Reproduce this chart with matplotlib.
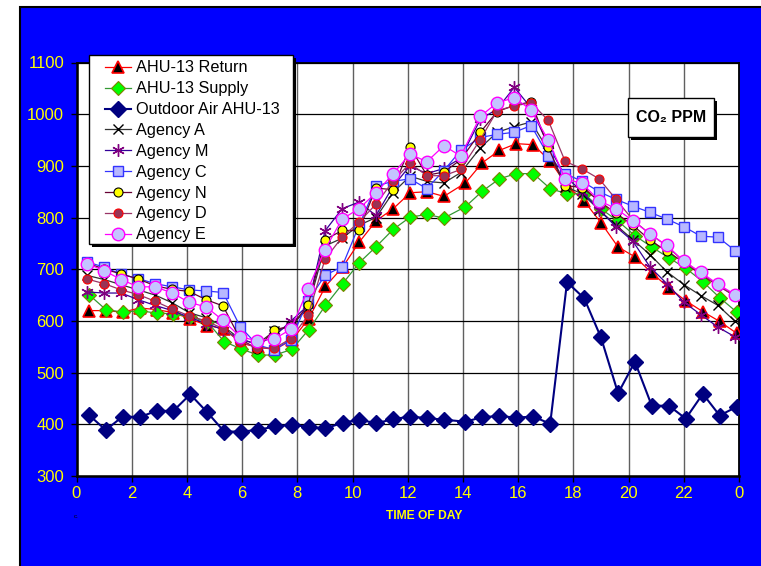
import matplotlib
matplotlib.use("Agg")
import matplotlib.pyplot as plt
from matplotlib.patches import Rectangle

plt.rcParams['font.family'] = ['Liberation Sans', 'DejaVu Sans']

# ---------------- data ----------------
t_ahu = [0.45, 1.06, 1.67, 2.29, 2.90, 3.51, 4.12, 4.74, 5.35, 5.96, 6.57, 7.19, 7.80,
         8.41, 9.02, 9.64, 10.25, 10.86, 11.47, 12.09, 12.70, 13.31, 14.09, 14.70,
         15.32, 15.93, 16.55, 17.16, 17.77, 18.39, 19.00, 19.62, 20.23, 20.84, 21.46,
         22.07, 22.69, 23.30, 23.92]
t_agency = [0.39, 1.01, 1.62, 2.24, 2.85, 3.47, 4.08, 4.70, 5.31, 5.93, 6.54, 7.16, 7.77,
            8.39, 9.00, 9.62, 10.23, 10.85, 11.46, 12.08, 12.69, 13.31, 13.92, 14.63,
            15.24, 15.86, 16.47, 17.09, 17.70, 18.32, 18.93, 19.55, 20.16, 20.78, 21.39,
            22.01, 22.62, 23.24, 23.86]

ahu_return = [620, 620, 617, 625, 622, 616, 604, 591, 585, 557, 549, 545, 563, 604, 667,
              704, 753, 794, 817, 848, 850, 841, 867, 906, 930, 943, 941, 909, 862, 832,
              790, 743, 724, 693, 664, 639, 618, 599, 576]
ahu_supply = [651, 622, 617, 620, 615, 614, 608, 598, 560, 546, 534, 534, 545, 583, 630,
              672, 713, 744, 777, 801, 806, 799, 821, 851, 875, 885, 885, 856, 846, 846,
              817, 793, 765, 743, 722, 702, 676, 645, 617]
outdoor = [418, 389, 415, 414, 426, 426, 458, 423, 386, 386, 389, 396, 399, 395, 392,
           403, 409, 402, 410, 415, 412, 409, 405, 414, 416, 413, 415, 401, 675, 644,
           568, 460, 521, 436, 436, 411, 459, 417, 434]
agency_a = [688, 680, 670, 660, 650, 635, 616, 606, 590, 565, 555, 580, 590, 625, 745,
            760, 785, 800, 848, 880, 870, 867, 887, 935, 965, 976, 985, 930, 860, 846,
            815, 785, 757, 728, 695, 670, 649, 630, 599]
agency_m = [656, 654, 654, 641, 630, 620, 607, 595, 583, 565, 555, 570, 600, 630, 774,
            817, 830, 804, 860, 900, 885, 895, 915, 990, 1010, 1052, 1012, 940, 880, 850,
            815, 782, 754, 704, 672, 636, 612, 588, 569]
agency_c = [714, 704, 690, 682, 672, 666, 660, 658, 655, 589, 554, 544, 564, 639, 688,
            705, 784, 861, 870, 875, 856, 891, 930, 955, 961, 965, 978, 920, 885, 870,
            850, 835, 822, 810, 797, 782, 764, 762, 736]
agency_n = [712, 700, 691, 681, 668, 661, 657, 641, 629, 565, 546, 583, 590, 630, 757,
            775, 775, 857, 854, 937, 882, 888, 912, 965, 1005, 1017, 1024, 936, 862, 858,
            832, 808, 785, 756, 735, 713, 690, 668, 648]
agency_d = [681, 672, 660, 651, 638, 623, 610, 600, 585, 560, 548, 547, 566, 611, 719,
            762, 791, 826, 870, 905, 881, 881, 893, 951, 1007, 1016, 1022, 988, 909, 894,
            875, 835, 795, 768, 745, 714, 692, 669, 649]
agency_e = [711, 697, 680, 666, 666, 654, 636, 627, 601, 569, 562, 565, 584, 662, 738,
            797, 817, 848, 884, 923, 908, 939, 919, 996, 1022, 1032, 1008, 950, 875, 866,
            833, 817, 794, 768, 746, 715, 694, 671, 651]

x_ticks = [0, 2, 4, 6, 8, 10, 12, 14, 16, 18, 20, 22, 24]
x_tick_labels = ['0', '2', '4', '6', '8', '10', '12', '14', '16', '18', '20', '22', '0']
y_ticks = [300, 400, 500, 600, 700, 800, 900, 1000, 1100]

# ---------------- figure ----------------
W, H = 761, 566
fig = plt.figure(figsize=(W / 100, H / 100), dpi=100, facecolor='white')
fig.add_artist(Rectangle((20 / W, -0.01), 1.02 - 20 / W, 1 + 0.01 - 7 / H,
                         transform=fig.transFigure, fc='#0000FF', ec='black',
                         lw=1.5, zorder=-5))

ax = fig.add_axes([76.5 / W, 1 - 476 / H, 662.5 / W, 413.5 / H])
ax.set_facecolor('white')

lw = 0.9
ax.plot(t_ahu, ahu_return, color='#FF0000', lw=lw, marker='^', ms=9,
        mfc='black', mec='#FF0000', mew=1.2, label='AHU-13 Return', zorder=3)
ax.plot(t_ahu, ahu_supply, color='#339933', lw=lw, marker='D', ms=7,
        mfc='#00FF00', mec='#808000', mew=0.8, label='AHU-13 Supply', zorder=3)
ax.plot(t_ahu, outdoor, color='#000080', lw=1.5, marker='D', ms=7.8,
        mfc='#000080', mec='#000080', label='Outdoor Air AHU-13', zorder=3)
ax.plot(t_agency, agency_a, color='#333333', lw=lw, marker='x', ms=7,
        mec='black', mew=1.0, label='Agency A', zorder=3)
ax.plot(t_agency, agency_m, color='#330099', lw=lw, marker=(6, 2, 0), ms=9,
        mec='#800080', mew=1.0, label='Agency M', zorder=3)
ax.plot(t_agency, agency_c, color='#3333FF', lw=lw, marker='s', ms=6.5,
        mfc='#B8B8FF', mec='#3333FF', mew=1.0, label='Agency C', zorder=3)
ax.plot(t_agency, agency_n, color='#660033', lw=lw, marker='o', ms=6.5,
        mfc='#FFFF00', mec='black', mew=0.8, label='Agency N', zorder=3)
ax.plot(t_agency, agency_d, color='#993366', lw=lw, marker='o', ms=6.5,
        mfc='#993355', mec='#FF0000', mew=0.8, label='Agency D', zorder=3)
ax.plot(t_agency, agency_e, color='#FF00FF', lw=lw, marker='o', ms=9,
        mfc='#C4C4FF', mec='#FF00FF', mew=1.0, label='Agency E', zorder=3)

ax.set_xlim(0, 24)
ax.set_ylim(300, 1100)
ax.set_xticks(x_ticks)
ax.set_xticklabels(x_tick_labels)
ax.set_yticks(y_ticks)
ax.grid(axis='y', color='black', lw=0.9, zorder=1)
ax.grid(axis='x', color='#606060', lw=1.0, zorder=1)
ax.set_axisbelow(True)
ax.tick_params(axis='both', direction='out', length=4, width=1, color='black',
               labelcolor='#FFFF00', labelsize=12)
ax.tick_params(axis='y', pad=5)
ax.tick_params(axis='x', pad=3)
for s in ax.spines.values():
    s.set_color('black')
    s.set_linewidth(1.3)
ax.spines['left'].set_linewidth(1.8)
ax.spines['bottom'].set_linewidth(1.8)

# x-axis title
fig.text(424.5 / W, 1 - 516 / H, 'TIME OF DAY', color='#FFFF00', fontsize=8.7,
         fontweight='bold', ha='center', va='center')
fig.text(76 / W, 1 - 516 / H, 'c.', color='black', fontsize=4.5, ha='center', va='center')

# legend frame (drawn manually) with black shadow
lx0, ly0, lx1, ly1 = 89, 55, 293, 244
fig.add_artist(Rectangle(((lx0 + 3) / W, 1 - (ly1 + 3) / H), (lx1 - lx0) / W,
                         (ly1 - ly0) / H, transform=fig.transFigure, fc='black',
                         ec='black', lw=0, zorder=14))
fig.add_artist(Rectangle((lx0 / W, 1 - ly1 / H), (lx1 - lx0) / W, (ly1 - ly0) / H,
                         transform=fig.transFigure, fc='white', ec='black',
                         lw=1.0, zorder=15))
leg = fig.legend(loc='upper left', bbox_to_anchor=(105 / W, 1 - 60.5 / H),
                 bbox_transform=fig.transFigure, fontsize=11.7, frameon=False,
                 numpoints=1, handlelength=1.6, handletextpad=0.32, labelspacing=0.36,
                 borderpad=0, borderaxespad=0)
leg.set_zorder(20)

# CO2 PPM box
bx0, by0, bx1, by1 = 628, 98, 714, 137
fig.add_artist(Rectangle(((bx0 + 3) / W, 1 - (by1 + 3) / H), (bx1 - bx0) / W,
                         (by1 - by0) / H, transform=fig.transFigure, fc='black',
                         ec='black', lw=0, zorder=8))
fig.add_artist(Rectangle((bx0 / W, 1 - by1 / H), (bx1 - bx0) / W, (by1 - by0) / H,
                         transform=fig.transFigure, fc='white', ec='black',
                         lw=1.0, zorder=9))
fig.text((bx0 + bx1) / 2 / W, 1 - (by0 + by1) / 2 / H, 'CO\u2082 PPM', color='black',
         fontsize=11.5, fontweight='bold', ha='center', va='center', zorder=10)

fig.savefig('out.png', dpi=100, facecolor='white')
